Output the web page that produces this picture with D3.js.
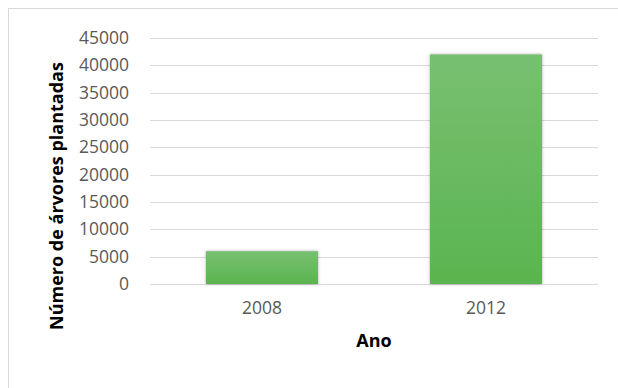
<!DOCTYPE html>
<html>
<head>
<meta charset="utf-8">
<script src="https://cdn.jsdelivr.net/npm/d3@7"></script>
<style>
  body { margin: 0; background: #fff; }
  text { font-family: "Open Sans", "Noto Sans", sans-serif; }
</style>
</head>
<body>
<div id="chart"></div>
<script>
const anos = ["2008", "2012"];
const arvores = [6000, 42000];
const yTicks = [0, 5000, 10000, 15000, 20000, 25000, 30000, 35000, 40000, 45000];

const W = 618, H = 388;
const margin = {top: 38, right: 20, bottom: 104, left: 150};
const width = 598 - margin.left,
      height = 284 - margin.top;

const svg = d3.select("#chart").append("svg")
    .attr("width", W)
    .attr("height", H);

const defs = svg.append("defs");
const grad = defs.append("linearGradient")
    .attr("id", "barGrad")
    .attr("x1", 0).attr("y1", 0).attr("x2", 0).attr("y2", 1);
grad.append("stop").attr("offset", "0%").attr("stop-color", "#78c071");
grad.append("stop").attr("offset", "100%").attr("stop-color", "#5ab44f");

const shadow = defs.append("filter").attr("id", "shadow")
    .attr("x", "-10%").attr("y", "-10%").attr("width", "120%").attr("height", "120%");
shadow.append("feDropShadow")
    .attr("dx", 0).attr("dy", 0).attr("stdDeviation", 1.5)
    .attr("flood-color", "#000").attr("flood-opacity", 0.35);

// chart frame
svg.append("rect")
    .attr("x", 8.5).attr("y", 8.5)
    .attr("width", W + 10).attr("height", H + 10)
    .attr("fill", "none")
    .attr("stroke", "#d9d9d9");

const g = svg.append("g")
    .attr("transform", `translate(${margin.left},${margin.top})`);

const x = d3.scaleBand()
    .domain(anos)
    .range([0, width])
    .paddingInner(0.5)
    .paddingOuter(0.25);

const y = d3.scaleLinear()
    .domain([0, 45000])
    .range([height, 0]);

// gridlines
g.append("g")
    .selectAll("line")
    .data(yTicks)
    .join("line")
    .attr("x1", 0).attr("x2", width)
    .attr("y1", d => Math.round(y(d)) + 0.5)
    .attr("y2", d => Math.round(y(d)) + 0.5)
    .attr("stroke", "#d9d9d9")
    .attr("stroke-width", 1.2);

// y axis labels
const yAxis = g.append("g")
    .call(d3.axisLeft(y).tickValues(yTicks).tickSize(0).tickPadding(21).tickFormat(d3.format("d")));
yAxis.select(".domain").remove();
yAxis.selectAll("text")
    .attr("fill", "#595959")
    .style("font-size", "17.5px");

// bars
g.selectAll("rect.bar")
    .data(anos)
    .join("rect")
    .attr("class", "bar")
    .attr("x", d => x(d))
    .attr("width", x.bandwidth())
    .attr("y", (d, i) => y(arvores[i]))
    .attr("height", (d, i) => height - y(arvores[i]))
    .attr("fill", "url(#barGrad)")
    .attr("filter", "url(#shadow)");

// x axis
const xAxis = g.append("g")
    .attr("transform", `translate(0,${height})`)
    .call(d3.axisBottom(x).tickSize(0).tickPadding(18));
xAxis.select(".domain").remove();
xAxis.selectAll("text")
    .attr("fill", "#595959")
    .style("font-size", "17.5px");

// axis titles
svg.append("text")
    .attr("x", margin.left + width / 2)
    .attr("y", 347)
    .attr("text-anchor", "middle")
    .attr("font-weight", "bold")
    .style("font-size", "18px")
    .attr("fill", "#000")
    .text("Ano");

svg.append("text")
    .attr("transform", "translate(63,196) rotate(-90)")
    .attr("text-anchor", "middle")
    .attr("font-weight", "bold")
    .style("font-size", "18px")
    .attr("fill", "#000")
    .text("Número de árvores plantadas");
</script>
</body>
</html>
